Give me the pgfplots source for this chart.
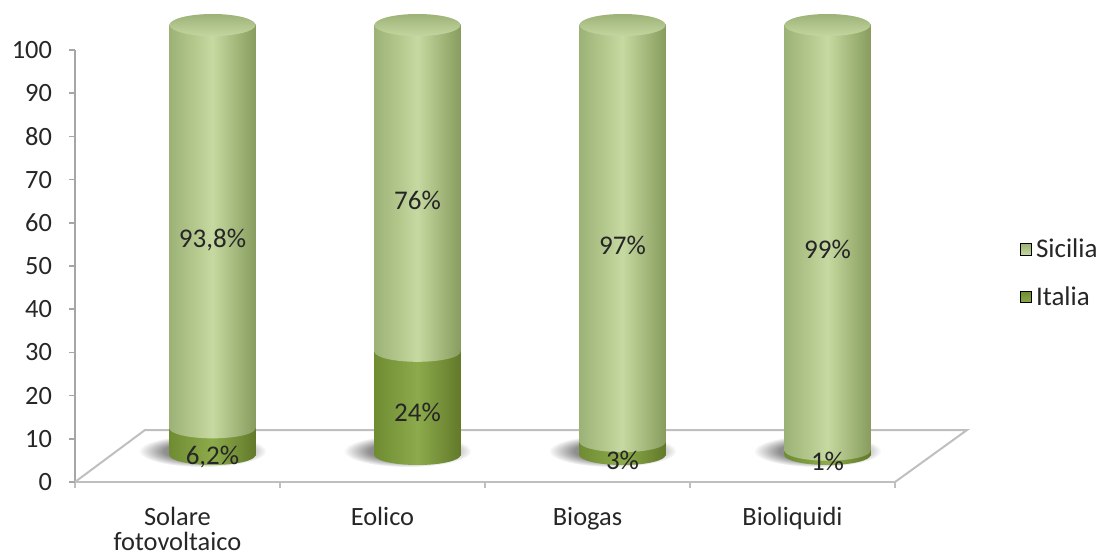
\documentclass[border=0pt]{standalone}
\usepackage{pgfplots}
\pgfplotsset{compat=1.18}
\usepackage{fontspec}
\setmainfont{Carlito}
\definecolor{sicL}{HTML}{C6D9A0}
\definecolor{sicEl}{HTML}{9DB276}
\definecolor{sicEr}{HTML}{879C5E}
\definecolor{capT}{HTML}{9CB277}
\definecolor{capB}{HTML}{C4D69F}
\definecolor{itaL}{HTML}{8DAB4B}
\definecolor{itaEl}{HTML}{6F8C33}
\definecolor{itaEr}{HTML}{61792A}
\definecolor{floorc}{HTML}{BFBFBF}
\definecolor{axisc}{HTML}{A6A6A6}
\definecolor{txt}{HTML}{262626}
\pgfdeclareradialshading{cylshadow}{\pgfpoint{0bp}{0bp}}{color(0bp)=(black!50); color(15bp)=(black!44); color(25bp)=(white); color(50bp)=(white)}
\pgfdeclareplotmark{cyltop}{\shade[draw=none, top color=capT, bottom color=capB] (0pt,0pt) ellipse (21.5pt and 5.5pt);}
\pgfdeclareplotmark{botS}{\shade[draw=none, left color=sicEl, right color=sicEr, middle color=sicL] (-21.5pt,1.2pt) -- (-21.5pt,0pt) arc[start angle=180, end angle=360, x radius=21.5pt, y radius=5pt] -- (21.5pt,1.2pt) -- cycle;}
\pgfdeclareplotmark{botI}{\shade[draw=none, left color=itaEl, right color=itaEr, middle color=itaL] (-21.5pt,1pt) -- (-21.5pt,0pt) arc[start angle=180, end angle=360, x radius=21.5pt, y radius=5pt] -- (21.5pt,1pt) -- cycle;}
\pgfdeclareplotmark{cylshadow}{\shade[draw=none, shading=cylshadow] (-5pt,2pt) ellipse (32pt and 8pt);}
\newcommand{\fs}{\fontsize{13.5}{12.5}\selectfont}
\begin{document}
\begin{tikzpicture}
\useasboundingbox (0,0) rectangle (557pt,279pt);
% main axis: y scale, floor, category labels, legend
\begin{axis}[
  at={(37.5pt,38pt)}, anchor=south west,
  scale only axis, width=410pt, height=216pt,
  xmin=0, xmax=4, ymin=0, ymax=100,
  axis lines*=left,
  x axis line style={floorc, line width=1pt},
  y axis line style={axisc, line width=0.8pt},
  tick align=outside,
  major tick length=3pt, minor tick length=3pt,
  ytick={0,10,...,100},
  ytick style={axisc, line width=0.8pt},
  xtick={0.5,1.5,2.5,3.5},
  xticklabels={{Solare\\fotovoltaico},Eolico,Biogas,Bioliquidi},
  minor xtick={0,1,2,3,4},
  every major x tick/.append style={draw=none},
  every minor x tick/.append style={floorc, line width=1pt},
  xticklabel style={align=center, font=\fontsize{13.2}{12.5}\selectfont, text=txt, yshift=-6pt},
  yticklabel style={font=\fontsize{13.2}{14}\selectfont, text=txt, xshift=-5pt},
  /pgf/number format/assume math mode=true,
  clip=false,
  legend style={at={(1.152,0.483)}, anchor=west, draw=none, fill=none,
    font=\fs, text=txt, row sep=9pt, inner xsep=0pt},
  legend cell align=left,
]
\draw[floorc, line width=1pt] (axis cs:0,0) -- ++(35pt,26pt) -- ++(411pt,0pt) -- (axis cs:4,0);
\addlegendimage{legend image code/.code={\shade[top color=sicEl, bottom color=sicL] (0pt,-2.8pt) rectangle (5.6pt,2.8pt);}}
\addlegendentry{Sicilia}
\addlegendimage{legend image code/.code={\shade[top color=itaEl, bottom color=itaL] (0pt,-2.8pt) rectangle (5.6pt,2.8pt);}}
\addlegendentry{Italia}
\end{axis}
% cylinder axis, shifted to the middle depth of the floor
\begin{axis}[
  at={(55pt,51.5pt)}, anchor=south west,
  scale only axis, width=410pt, height=215pt,
  xmin=0, xmax=4, ymin=0, ymax=100,
  hide axis, clip=false, clip marker paths=true,
]
\addplot[only marks, mark=cylshadow] coordinates {(0.5,0) (1.5,0) (2.5,0) (3.5,0)};
% Sicilia (full cylinder to 100)
\addplot[ybar, bar width=43pt, bar shift=0pt, draw=none, left color=sicEl, right color=sicEr, middle color=sicL] coordinates {(0.5,100)};
\addplot[ybar, bar width=43pt, bar shift=0pt, draw=none, left color=sicEl, right color=sicEr, middle color=sicL] coordinates {(1.5,100)};
\addplot[ybar, bar width=43pt, bar shift=0pt, draw=none, left color=sicEl, right color=sicEr, middle color=sicL] coordinates {(2.5,100)};
\addplot[ybar, bar width=43pt, bar shift=0pt, draw=none, left color=sicEl, right color=sicEr, middle color=sicL] coordinates {(3.5,100)};
\addplot[only marks, mark=cyltop] coordinates {(0.5,100) (1.5,100) (2.5,100) (3.5,100)};
% Italia
\addplot[ybar, bar width=43pt, bar shift=0pt, draw=none, left color=itaEl, right color=itaEr, middle color=itaL] coordinates {(0.5,6.2)};
\addplot[ybar, bar width=43pt, bar shift=0pt, draw=none, left color=itaEl, right color=itaEr, middle color=itaL] coordinates {(1.5,24)};
\addplot[ybar, bar width=43pt, bar shift=0pt, draw=none, left color=itaEl, right color=itaEr, middle color=itaL] coordinates {(2.5,3)};
\addplot[ybar, bar width=43pt, bar shift=0pt, draw=none, left color=itaEl, right color=itaEr, middle color=itaL] coordinates {(3.5,1)};
\addplot[only marks, mark=botI] coordinates {(0.5,0) (1.5,0) (2.5,0) (3.5,0)};
\addplot[only marks, mark=botS] coordinates {(0.5,6.2) (1.5,24) (2.5,3) (3.5,1)};
% value labels
\addplot[draw=none, nodes near coords, point meta=explicit symbolic,
  every node near coord/.append style={font=\fs, text=txt, anchor=center}]
  coordinates {(0.5,50) [93,8\%] (1.5,59.3) [76\%] (2.5,48.8) [97\%] (3.5,47.7) [99\%]
               (0.5,-0.5) [6,2\%] (1.5,9.8) [24\%] (2.5,-1.2) [3\%] (3.5,-1.6) [1\%]};
\end{axis}
\end{tikzpicture}
\end{document}
